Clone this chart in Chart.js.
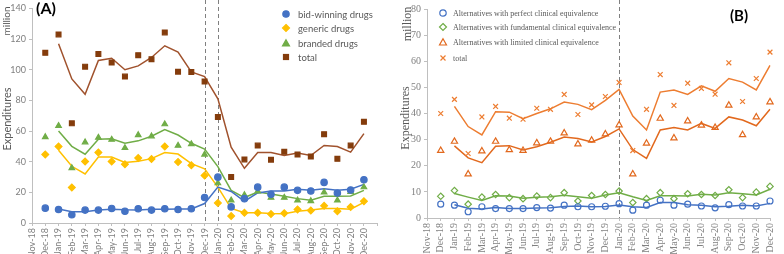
<!DOCTYPE html>
<html lang="en">
<head>
  <meta charset="UTF-8">
  <title>Drug expenditures</title>
  <script src="https://cdn.jsdelivr.net/npm/chart.js"></script>
  <style>
    body { margin: 0; width: 784px; height: 254px; position: relative; overflow: hidden; background: #fff; }
    .panel { position: absolute; top: 0; height: 254px; }
    .rot { position: absolute; transform: translate(-50%, -50%) rotate(-90deg); white-space: nowrap; color: #595959; }
    .sans { font-family: Lato, "Liberation Sans", sans-serif; }
    .serif { font-family: "Liberation Serif", serif; }
    .tag { position: absolute; font-family: Lato, "Liberation Sans", sans-serif; font-weight: bold; color: #000; }
    .legend { position: absolute; color: #595959; }
    .legend .row { position: absolute; left: 0; white-space: nowrap; display: flex; align-items: center; height: 12px; }
    .legend svg { width: 10px; height: 10px; }
  </style>
</head>
<body>

  <div class="panel" style="left:0;width:390px"><canvas id="chartA"></canvas></div>
  <div class="panel" style="left:390px;width:394px"><canvas id="chartB"></canvas></div>

  <div class="tag" style="left:36px;top:-2px;font-size:16px">(A)</div>
  <div class="tag" style="left:730px;top:6px;font-size:15px">(B)</div>

  <div class="rot sans" style="left:6px;top:21px;font-size:10px">million</div>
  <div class="rot sans" style="left:6px;top:119px;font-size:11px">Expenditures</div>
  <div class="rot serif" style="left:407px;top:24px;font-size:12px">million</div>
  <div class="rot serif" style="left:405px;top:118px;font-size:12px">Expenditures</div>

  <div class="legend sans" id="legendA" style="left:281px;top:0;font-size:9.5px"></div>
  <div class="legend serif" id="legendB" style="left:438px;top:0;font-size:8px"></div>

  <script>
    const months = ['Nov-18', 'Dec-18', 'Jan-19', 'Feb-19', 'Mar-19', 'Apr-19', 'May-19', 'Jun-19', 'Jul-19',
      'Aug-19', 'Sep-19', 'Oct-19', 'Nov-19', 'Dec-19', 'Jan-20', 'Feb-20', 'Mar-20', 'Apr-20', 'May-20',
      'Jun-20', 'Jul-20', 'Aug-20', 'Sep-20', 'Oct-20', 'Nov-20', 'Dec-20'];

    // (A) monthly values, million
    const bidA = [null, 9.7, 8.8, 5.4, 8.4, 8.4, 9.5, 7.7, 9.3, 8.4, 9.3, 8.8, 9.3, 16.6, 29.9, 10.5, 15.9, 23.4, 18.7, 23.4, 21.3, 20.9, 26.5, 19.6, 21.5, 28.2];
    const bidLineA = [null, null, 9.2, 7.4, 7.4, 8.5, 9, 8.6, 8.5, 8.9, 8.9, 9.1, 9.1, 12.7, 23.4, 20.6, 14.2, 19.6, 20.9, 20.9, 22, 21.3, 22.4, 21.3, 22, 25.2];
    const genA = [null, 44.7, 49.9, 23.2, 40.2, 46, 40.2, 38.3, 42.4, 41.7, 49.9, 39.8, 37.6, 31, 13.1, 4.5, 6.7, 6.7, 5.8, 6.4, 8.8, 8.2, 11.2, 7.7, 10.5, 14.2];
    const genLineA = [null, null, 47.5, 37, 32, 43, 43, 39.5, 40.3, 42, 46, 45, 38.7, 35.3, 23.4, 9.5, 6.7, 6.7, 6.2, 6.1, 7.6, 8.5, 9.5, 9.5, 9, 13.5];
    const brandA = [null, 56.1, 63.4, 35.9, 52.7, 55.7, 54.4, 49, 57.4, 56.6, 64.5, 50.5, 51.5, 44.7, 26, 14.8, 18.3, 20.6, 16.6, 16.6, 14.8, 14.4, 20, 14.8, 20.4, 23.4];
    const brandLineA = [null, null, 60, 50, 44.9, 54.7, 55, 52, 53.6, 56.6, 60.9, 57.4, 52, 48.2, 36.8, 21.3, 16.6, 20.2, 18.9, 17.4, 15.9, 14.8, 17.4, 17.4, 17.6, 21.3];
    const totalA = [null, 111, 123, 65, 102, 110.3, 104.7, 95.5, 109.5, 106.9, 124.3, 98.7, 98.5, 92.3, 69.2, 30, 41.5, 50.5, 41.3, 46.5, 44.7, 43.4, 57.9, 41.9, 50.5, 66];
    const totalLineA = [null, null, 117, 94, 84, 106, 107.5, 100, 102.5, 108, 115.6, 111.5, 98.6, 95.5, 81, 49.5, 35.7, 46, 46, 44, 45.6, 44, 50.6, 49.9, 46.2, 58.3];

    // (B) monthly values, million
    const perfB = [null, 5.3, 4.9, 2.4, 4.3, 3.6, 3.6, 3.6, 4, 3.8, 4.9, 4.3, 4.3, 4.5, 5.5, 3, 4.9, 6.8, 4.9, 5.3, 4.6, 3.9, 5.1, 4.6, 4.6, 6.5];
    const perfLineB = [null, null, 5.1, 3.7, 3.4, 4, 3.6, 3.6, 3.8, 3.9, 4.4, 4.6, 4.3, 4.4, 5, 4.3, 4, 5.9, 5.9, 5.1, 4.9, 4.3, 4.5, 4.9, 4.6, 5.6];
    const fundB = [null, 8.3, 10.5, 5.3, 8, 9, 7.8, 7.4, 8.4, 7.8, 9.7, 6.5, 8.6, 9, 10.3, 5.9, 7.4, 9.7, 7.4, 9.3, 9, 8.6, 10.8, 7.8, 9.9, 12.1];
    const fundLineB = [null, null, 9.4, 8, 6.7, 8.5, 8.4, 7.6, 7.9, 8.1, 8.7, 8.1, 7.6, 8.8, 9.7, 8.1, 6.7, 8.5, 8.5, 8.4, 9.1, 8.8, 9.7, 9.3, 8.8, 11];
    const limB = [null, 25.8, 29.3, 16.8, 25.6, 29.3, 26.1, 25.8, 28.7, 29.3, 32.5, 28.3, 29.7, 32.1, 35.6, 16.8, 28.6, 38.1, 30.6, 37.1, 35.5, 34.6, 43.1, 31.8, 38.6, 44.4];
    const limLineB = [null, null, 27.6, 23, 21.2, 27.5, 27.7, 26, 27.3, 29, 31, 30.4, 29.1, 31.2, 34.1, 26.2, 22.8, 33.7, 34.6, 33.7, 36.2, 34.3, 38.7, 37.5, 35.3, 41.6];
    const totB = [null, 40, 45.4, 24.7, 38.7, 42.7, 38.2, 37.8, 42, 41.6, 47.3, 39.6, 43.3, 46.5, 51.9, 25.8, 41.6, 54.9, 43.1, 51.6, 49.6, 47.4, 59.4, 44.6, 53.4, 63.5];
    const totLineB = [null, null, 42.7, 35, 31.8, 40.7, 40.5, 38, 40, 41.8, 44.4, 43.5, 41.5, 45, 49.2, 39, 33.7, 48.2, 49, 47.3, 50.6, 48.5, 53.4, 52, 49, 58.4];

    const legendA = ['bid-winning drugs', 'generic drugs', 'branded drugs', 'total'];
    const legendB = ['Alternatives with perfect clinical equivalence', 'Alternatives with fundamental clinical equivalence',
      'Alternatives with limited clinical equivalence', 'total'];

    const BLUE = '#4472C4', YELLOW = '#FFC000', GREEN = '#70AD47', BROWN = '#843C0C';
    const ORANGE = '#ED7D31', DKORANGE = '#E2691E';

    // vertical dashed markers at given months
    const dashedLines = {
      id: 'dashedLines',
      beforeDatasetsDraw(chart, args, opts) {
        const ctx = chart.ctx, x = chart.scales.x;
        ctx.save();
        ctx.setLineDash([4, 3]);
        ctx.strokeStyle = '#808080';
        ctx.lineWidth = 1;
        opts.at.forEach(m => {
          const px = Math.round(x.getPixelForValue(months.indexOf(m))) + 0.5;
          ctx.beginPath();
          ctx.moveTo(px, 0);
          ctx.lineTo(px, chart.chartArea.bottom);
          ctx.stroke();
        });
        ctx.restore();
      }
    };

    function pts(data, color, style, r, fill) {
      return {
        data, showLine: false, order: 0,
        pointStyle: style, pointRadius: r, pointBorderWidth: 1.2,
        pointBackgroundColor: fill ? color : 'rgba(0,0,0,0)', pointBorderColor: color,
        borderColor: color
      };
    }
    function trend(data, color) {
      return { data, order: 1, pointRadius: 0, borderColor: color, borderWidth: 1.5, tension: 0, fill: false };
    }

    function axes(o) {
      const grid = { drawOnChartArea: false, tickLength: 3, color: '#bfbfbf' };
      return {
        x: {
          offset: false,
          grid, border: { color: '#bfbfbf' },
          ticks: { autoSkip: false, minRotation: 90, maxRotation: 90, padding: 2, color: o.color, font: { family: o.font, size: o.xsize } },
          afterFit: s => { s.height = o.xh; }
        },
        y: {
          min: 0, max: o.max,
          grid, border: { color: '#bfbfbf' },
          ticks: { stepSize: o.step, padding: 3, color: o.color, font: { family: o.font, size: o.ysize } },
          afterFit: s => { s.width = o.yw; }
        }
      };
    }

    new Chart(document.getElementById('chartA'), {
      type: 'line',
      data: {
        labels: months.concat(['']),
        datasets: [
          pts(bidA, BLUE, 'circle', 3.2, true),
          pts(genA, YELLOW, 'rectRot', 3.4, true),
          pts(brandA, GREEN, 'triangle', 3.2, true),
          pts(totalA, BROWN, 'rect', 3.4, true),
          trend(bidLineA, BLUE),
          trend(genLineA, YELLOW),
          trend(brandLineA, GREEN),
          trend(totalLineA, '#A0522D')
        ]
      },
      options: {
        responsive: true, maintainAspectRatio: false, animation: false,
        layout: { padding: { top: 6, right: 8, left: 0, bottom: 0 } },
        plugins: { legend: { display: false }, tooltip: { enabled: false }, dashedLines: { at: ['Dec-19', 'Jan-20'] } },
        scales: axes({ max: 140, step: 20, font: 'Lato', color: '#7f7f7f', xsize: 9, ysize: 9, xh: 31, yw: 32 })
      },
      plugins: [dashedLines]
    });

    new Chart(document.getElementById('chartB'), {
      type: 'line',
      data: {
        labels: months,
        datasets: [
          pts(perfB, BLUE, 'circle', 3, false),
          pts(fundB, GREEN, 'rectRot', 3.2, false),
          pts(limB, DKORANGE, 'triangle', 3.6, false),
          pts(totB, ORANGE, 'crossRot', 3.4, false),
          trend(perfLineB, BLUE),
          trend(fundLineB, GREEN),
          trend(limLineB, DKORANGE),
          trend(totLineB, ORANGE)
        ]
      },
      options: {
        responsive: true, maintainAspectRatio: false, animation: false,
        layout: { padding: { top: 5, right: 12, left: 0, bottom: 0 } },
        plugins: { legend: { display: false }, tooltip: { enabled: false }, dashedLines: { at: ['Jan-20'] } },
        scales: axes({ max: 80, step: 10, font: 'Liberation Serif', color: '#808080', xsize: 10, ysize: 10, xh: 36, yw: 37 })
      },
      plugins: [dashedLines]
    });

    // legends
    function marker(shape, color, fill) {
      const f = fill ? color : 'none';
      const s = `stroke="${color}" stroke-width="1.2" fill="${f}"`;
      let body = '';
      if (shape === 'circle') body = `<circle cx="5" cy="5" r="3.2" ${s}/>`;
      if (shape === 'diamond') body = `<polygon points="5,1.5 8.5,5 5,8.5 1.5,5" ${s}/>`;
      if (shape === 'triangle') body = `<polygon points="5,1.8 8.5,8 1.5,8" ${s}/>`;
      if (shape === 'square') body = `<rect x="2.5" y="2.5" width="5" height="5" ${s}/>`;
      if (shape === 'cross') body = `<path d="M2.5,2.5 L7.5,7.5 M7.5,2.5 L2.5,7.5" stroke="${color}" stroke-width="1.2"/>`;
      return `<svg viewBox="0 0 10 10">${body}</svg>`;
    }
    function buildLegend(id, names, shapes, colors, fill, rows, gap) {
      document.getElementById(id).innerHTML = names.map((n, i) =>
        `<div class="row" style="top:${rows[i] - 6}px">${marker(shapes[i], colors[i], fill)}<span style="margin-left:${gap}px">${n}</span></div>`
      ).join('');
    }
    buildLegend('legendA', legendA, ['circle', 'diamond', 'triangle', 'square'], [BLUE, YELLOW, GREEN, BROWN], true, [14, 28, 43, 57], 7);
    buildLegend('legendB', legendB, ['circle', 'diamond', 'triangle', 'cross'], [BLUE, GREEN, DKORANGE, ORANGE], false, [13, 27, 42, 58], 5);
  </script>
</body>
</html>
